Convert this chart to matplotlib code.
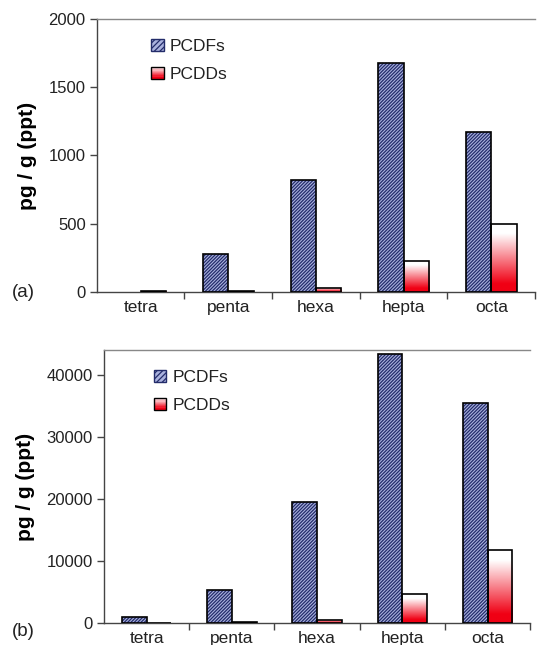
import numpy as np
import matplotlib
matplotlib.use("Agg")
import matplotlib.pyplot as plt
from matplotlib.patches import Patch, Rectangle
from matplotlib.legend_handler import HandlerBase
from matplotlib.colors import LinearSegmentedColormap

plt.rcParams['font.family'] = ['Liberation Sans', 'DejaVu Sans']
plt.rcParams['hatch.linewidth'] = 0.9

categories = ["tetra", "penta", "hexa", "hepta", "octa"]
pcdf_a = [0, 275, 820, 1680, 1170]
pcdd_a = [10, 8, 30, 230, 500]
pcdf_b = [1000, 5300, 19500, 43400, 35400]
pcdd_b = [50, 200, 500, 4600, 11800]
yticks_a = [0, 500, 1000, 1500, 2000]
yticks_b = [0, 10000, 20000, 30000, 40000]
series_names = ["PCDFs", "PCDDs"]
panel_labels = ["(a)", "(b)"]

PCDF_FACE = '#aab2de'
PCDF_HATCH = '#232c6a'
RED = '#f00014'
TXT = '#222222'
grad_cmap = LinearSegmentedColormap.from_list(
    'g', [(0, RED), (0.12, RED), (0.85, 'white'), (1, 'white')])

fig = plt.figure(figsize=(5.5, 6.45), dpi=100)

BW = 0.29


class GradHandler(HandlerBase):
    def create_artists(self, legend, orig_handle, xdescent, ydescent,
                       width, height, fontsize, trans):
        arts = []
        n = 10
        for i in range(n):
            t = (i + 0.5) / n
            arts.append(Rectangle((-xdescent, -ydescent + height * i / n), width, height / n,
                                  facecolor=grad_cmap(t * 0.85), edgecolor='none',
                                  transform=trans))
        arts.append(Rectangle((-xdescent, -ydescent), width, height, facecolor='none',
                              edgecolor='black', linewidth=1.0, transform=trans))
        return arts


def draw_panel(ax, pcdf, pcdd, yticks, ylim, leg_anchor):
    x = np.arange(len(categories))
    lw_f = [1.2 if v > 0 else 0 for v in pcdf]
    lw_d = [1.2 if v > 0 else 0 for v in pcdd]
    ax.bar(x - BW / 2, pcdf, BW, facecolor=PCDF_FACE, edgecolor=PCDF_HATCH,
           hatch='//////////', linewidth=0, zorder=2)
    ax.bar(x - BW / 2, pcdf, BW, fill=False, edgecolor='black', linewidth=lw_f, zorder=3)
    bars = ax.bar(x + BW / 2, pcdd, BW, facecolor='none', edgecolor='black',
                  linewidth=lw_d, zorder=3)
    grad = np.linspace(0, 1, 256).reshape(-1, 1)
    for b, v in zip(bars, pcdd):
        if v <= 0:
            continue
        x0 = b.get_x()
        im = ax.imshow(grad, extent=[x0, x0 + BW, 0, v], origin='lower',
                       cmap=grad_cmap, aspect='auto', zorder=2, interpolation='bilinear')
        im.set_clip_path(b)
    ax.set_xlim(-0.5, len(categories) - 0.5)
    ax.set_ylim(*ylim)
    ax.set_yticks(yticks)
    ax.set_yticklabels([str(t) for t in yticks])
    ax.set_xticks(x)
    ax.set_xticklabels(categories)
    ax.set_xticks(np.arange(len(categories)) + 0.5, minor=True)
    ax.tick_params(axis='x', which='major', length=0, labelsize=12.5, pad=6, labelcolor=TXT)
    ax.tick_params(axis='x', which='minor', length=5, width=1, direction='out', color='#444444')
    ax.tick_params(axis='y', length=5, width=1, direction='out', labelsize=12, pad=3,
                   labelcolor=TXT, color='#444444')
    ax.spines['right'].set_visible(False)
    ax.spines['top'].set_color('#888888')
    ax.spines['top'].set_linewidth(1.0)
    for s in ('left', 'bottom'):
        ax.spines[s].set_color('#444444')
        ax.spines[s].set_linewidth(1.0)
    ax.set_ylabel("pg / g (ppt)", fontsize=15, fontweight='bold', labelpad=8, color='black')

    h1 = Patch(facecolor=PCDF_FACE, edgecolor=PCDF_HATCH, hatch='//////', linewidth=1.0)
    h2 = Patch(facecolor='white', edgecolor='black')
    leg = ax.legend([h1, h2], series_names, handler_map={h2: GradHandler()},
                    loc='upper left', bbox_to_anchor=leg_anchor, frameon=False,
                    fontsize=12.5, handlelength=0.7, handleheight=0.7,
                    handletextpad=0.35, labelspacing=0.75)
    for t in leg.get_texts():
        t.set_color(TXT)
    return ax


ax1 = fig.add_axes([0.176, 0.5473, 0.797, 0.4233])
draw_panel(ax1, pcdf_a, pcdd_a, yticks_a, (0, 2000), (0.089, 0.985))
ax2 = fig.add_axes([0.189, 0.0341, 0.775, 0.4233])
draw_panel(ax2, pcdf_b, pcdd_b, yticks_b, (0, 44000), (0.081, 0.985))

fig.text(12 / 550, 1 - 292 / 645, panel_labels[0], fontsize=13.5, ha='left', va='center', color=TXT)
fig.text(12 / 550, 1 - 632 / 645, panel_labels[1], fontsize=13.5, ha='left', va='center', color=TXT)

fig.savefig("out.png", dpi=100)
